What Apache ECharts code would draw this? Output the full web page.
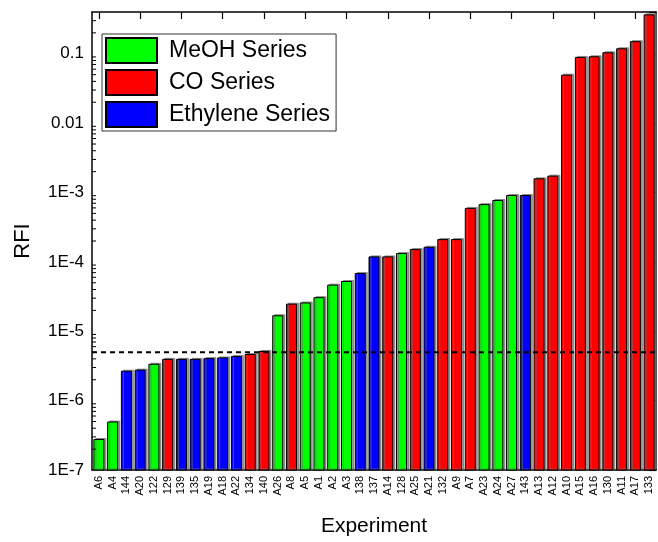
<!DOCTYPE html>
<html>
<head>
<meta charset="utf-8">
<script src="https://cdn.jsdelivr.net/npm/echarts@6/dist/echarts.min.js"></script>
<style>html,body{margin:0;padding:0;background:#fff;}#c{width:658px;height:542px;}</style>
</head>
<body>
<div id="c"></div>
<script>
const categories = ['A6','A4','144','A20','122','129','139','135','A19','A18','A22','134','140','A26','A8','A5','A1','A2','A3','138','137','A14','128','A25','A21','132','A9','A7','A23','A24','A27','143','A13','A12','A10','A15','A16','130','A11','A17','133'];
const values = [2.8e-7,5.0e-7,2.7e-6,2.8e-6,3.4e-6,4.0e-6,4.0e-6,4.0e-6,4.1e-6,4.2e-6,4.4e-6,4.7e-6,5.2e-6,1.7e-5,2.5e-5,2.6e-5,3.1e-5,4.7e-5,5.3e-5,6.9e-5,1.2e-4,1.2e-4,1.34e-4,1.53e-4,1.65e-4,2.13e-4,2.13e-4,6.0e-4,6.8e-4,7.8e-4,9.2e-4,9.2e-4,1.6e-3,1.75e-3,0.05,0.09,0.092,0.105,0.12,0.152,0.37];
const groups = ['M','M','E','E','M','C','E','E','E','E','E','C','C','M','C','M','M','M','M','E','E','C','M','C','E','C','C','C','M','M','M','E','C','C','C','C','C','C','C','C','C'];
const seriesNames = {M:'MeOH Series', C:'CO Series', E:'Ethylene Series'};
const seriesColors = {M:'#00ff00', C:'#ff0000', E:'#0000ff'};
const thresholdValue = 5e-6;
const yTickLabels = {'-7':'1E-7','-6':'1E-6','-5':'1E-5','-4':'1E-4','-3':'1E-3','-2':'0.01','-1':'0.1'};
const yMin = 1e-7, yMax = 0.4;
const minorTicks = [];
for (let e = -7; e <= -1; e++) for (let m = 2; m <= 9; m++) { const v = m * Math.pow(10, e); if (v < yMax) minorTicks.push(v); }

const chart = echarts.init(document.getElementById('c'));
const font = 'Liberation Sans, Arial, sans-serif';

// tiny invisible base (below the axis, clipped) so bars rise from the bottom of the log axis
const baseSeries = {
  type: 'bar', stack: 'all', barWidth: 11, barGap: '-100%', silent: true,
  data: categories.map(() => 1e-14),
  itemStyle: { color: 'rgba(0,0,0,0)', borderWidth: 0 },
  emphasis: { disabled: true }
};

const barSeries = ['M','C','E'].map(k => ({
  name: seriesNames[k],
  type: 'bar',
  stack: 'all',
  barWidth: 11,
  barGap: '-100%',
  clip: true,
  data: values.map((v, i) => groups[i] === k ? v : null),
  itemStyle: { color: seriesColors[k], borderColor: '#000', borderWidth: 1,
    shadowColor: 'rgba(110,110,110,0.7)', shadowOffsetX: 2, shadowOffsetY: -1 },
  emphasis: { disabled: true }
}));

const minorSeries = {
  type: 'custom',
  silent: true,
  z: 10,
  clip: false,
  data: minorTicks.map(v => [0, v]),
  renderItem: function (params, api) {
    const p = api.coord([0, api.value(1)]);
    const x0 = params.coordSys.x;
    return { type: 'line', shape: { x1: x0, y1: p[1], x2: x0 + 4, y2: p[1] }, style: { stroke: '#000', lineWidth: 1 } };
  }
};

const thresholdSeries = {
  type: 'custom',
  silent: true,
  z: 12,
  clip: false,
  data: [[0, thresholdValue]],
  renderItem: function (params, api) {
    const p = api.coord([0, api.value(1)]);
    const cs = params.coordSys;
    return { type: 'line', shape: { x1: cs.x, y1: p[1], x2: cs.x + cs.width, y2: p[1] },
      style: { stroke: '#000', lineWidth: 2, lineDash: [5, 4] } };
  }
};

chart.setOption({
  animation: false,
  grid: { left: 92, right: 2, top: 12, bottom: 72 },
  legend: {
    orient: 'vertical', left: 102, top: 34,
    data: ['MeOH Series','CO Series','Ethylene Series'],
    itemWidth: 51, itemHeight: 25, itemGap: 5,
    icon: 'rect',
    backgroundColor: '#fff', borderColor: '#333', borderWidth: 1, borderRadius: 0,
    padding: [3, 6, 3, 3],
    textStyle: { fontFamily: font, fontSize: 23, lineHeight: 25, color: '#000', padding: [0, 0, 0, 7] }
  },
  xAxis: [{
    type: 'category', data: categories, position: 'bottom',
    name: 'Experiment', nameLocation: 'middle', nameGap: 46,
    nameTextStyle: { fontFamily: font, fontSize: 21, color: '#000' },
    axisLine: { lineStyle: { color: '#000', width: 1.5 } },
    axisTick: { alignWithLabel: true, inside: false, length: 7, lineStyle: { color: '#000', width: 1.2 } },
    axisLabel: { rotate: 90, interval: 0, fontFamily: font, fontSize: 11, color: '#000', margin: 6 },
    splitLine: { show: false }
  }, {
    type: 'category', data: categories, position: 'top',
    axisLine: { show: true, lineStyle: { color: '#000', width: 1.5 } },
    axisTick: { show: true, alignWithLabel: true, inside: true, length: 7, lineStyle: { color: '#000', width: 1.2 } },
    axisLabel: { show: false }
  }],
  yAxis: [{
    type: 'log', min: yMin, max: yMax, logBase: 10,
    name: 'RFI', nameLocation: 'middle', nameGap: 58, nameRotate: 90,
    nameTextStyle: { fontFamily: font, fontSize: 22, color: '#000' },
    axisLine: { show: true, lineStyle: { color: '#000', width: 1.5 } },
    axisTick: { inside: true, length: 7, lineStyle: { color: '#000', width: 1.2 } },
    axisLabel: { fontFamily: font, fontSize: 17, color: '#000', margin: 8, showMaxLabel: false,
      formatter: v => { const e = Math.round(Math.log10(v)); return Math.abs(v / Math.pow(10, e) - 1) < 1e-6 ? (yTickLabels[String(e)] || '') : ''; } },
    splitLine: { show: false }
  }, {
    type: 'log', min: yMin, max: yMax, logBase: 10, position: 'right',
    axisLine: { show: true, lineStyle: { color: '#000', width: 1.5 } },
    axisTick: { show: true, inside: true, length: 7, lineStyle: { color: '#000', width: 1.2 } },
    axisLabel: { show: false },
    splitLine: { show: false }
  }],
  series: [baseSeries].concat(barSeries, [minorSeries, thresholdSeries])
});
</script>
</body>
</html>
